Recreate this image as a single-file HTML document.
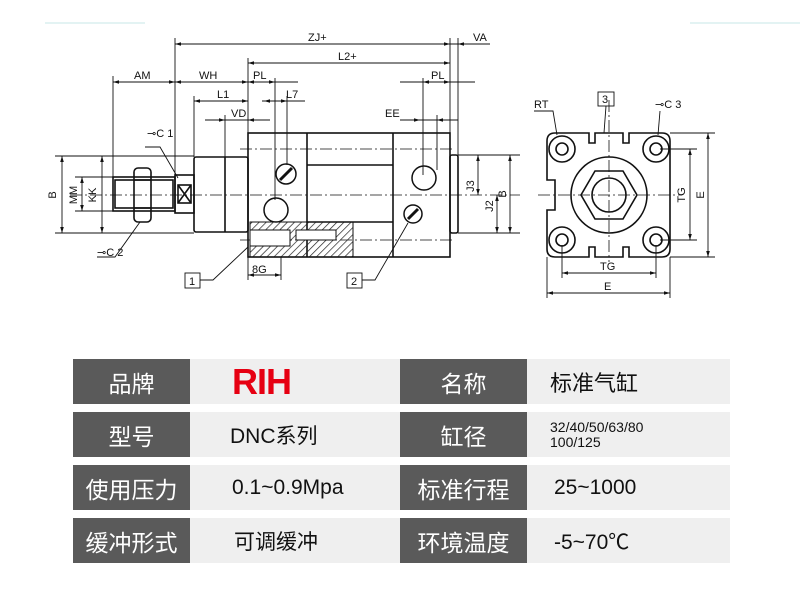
<!DOCTYPE html>
<html><head><meta charset="utf-8"><style>
body{margin:0;background:#fff;width:800px;height:614px;overflow:hidden;position:relative;font-family:"Liberation Sans","Noto Sans CJK SC",sans-serif}
svg{position:absolute;left:0;top:0}
.c{position:absolute;display:flex;align-items:center;justify-content:center;font-size:22px}
.d{background:#5a5a5a;color:#fff;font-size:23px}
.l{background:#efefef;color:#111}
</style></head><body>
<svg width="800" height="340" viewBox="0 0 800 340" font-family="Liberation Sans, sans-serif" font-size="11" fill="none" stroke="#111" stroke-width="1">
<defs><marker id="a" viewBox="0 0 10 6" refX="10" refY="3" markerWidth="7" markerHeight="4" orient="auto-start-reverse"><path d="M0,0L10,3L0,6z" fill="#111" stroke="none"/></marker>
<pattern id="h" width="5" height="5" patternUnits="userSpaceOnUse" patternTransform="rotate(45)"><line x1="0" y1="0" x2="0" y2="5" stroke="#222" stroke-width="1.4"/></pattern></defs>
<line x1="45" y1="23" x2="145" y2="23" stroke="#e3f3f3" stroke-width="2"/>
<line x1="690" y1="23" x2="800" y2="23" stroke="#e3f3f3" stroke-width="2"/>
<g stroke-width="0.9">
<line x1="175" y1="38" x2="175" y2="175"/><line x1="450" y1="38" x2="450" y2="133"/><line x1="458" y1="38" x2="458" y2="155"/>
<line x1="248" y1="58" x2="248" y2="133"/><line x1="113" y1="76" x2="113" y2="177"/><line x1="194" y1="96" x2="194" y2="157"/>
<line x1="225" y1="115" x2="225" y2="157"/><line x1="275" y1="78" x2="275" y2="200"/><line x1="287" y1="96" x2="287" y2="165"/>
<line x1="423" y1="78" x2="423" y2="175"/><line x1="437" y1="115" x2="437" y2="170"/>
<line x1="175" y1="44" x2="450" y2="44" marker-start="url(#a)" marker-end="url(#a)"/>
<line x1="450" y1="44" x2="490" y2="44"/><line x1="470" y1="44" x2="458" y2="44" marker-end="url(#a)"/>
<line x1="248" y1="63" x2="450" y2="63" marker-start="url(#a)" marker-end="url(#a)"/>
<line x1="113" y1="82" x2="175" y2="82" marker-start="url(#a)" marker-end="url(#a)"/>
<line x1="175" y1="82" x2="248" y2="82" marker-start="url(#a)" marker-end="url(#a)"/>
<line x1="248" y1="82" x2="298" y2="82"/><line x1="248" y1="82" x2="275" y2="82" marker-start="url(#a)" marker-end="url(#a)"/>
<line x1="400" y1="82" x2="475" y2="82"/><line x1="423" y1="82" x2="450" y2="82" marker-start="url(#a)" marker-end="url(#a)"/>
<line x1="194" y1="101" x2="248" y2="101" marker-start="url(#a)" marker-end="url(#a)"/>
<line x1="262" y1="101" x2="305" y2="101"/><line x1="264" y1="101" x2="287" y2="101" marker-start="url(#a)" marker-end="url(#a)"/>
<line x1="205" y1="120" x2="270" y2="120"/><line x1="210" y1="120" x2="225" y2="120" marker-end="url(#a)"/><line x1="265" y1="120" x2="248" y2="120" marker-end="url(#a)"/>
<line x1="400" y1="120" x2="458" y2="120"/><line x1="405" y1="120" x2="420" y2="120" marker-end="url(#a)"/><line x1="458" y1="120" x2="437" y2="120" marker-end="url(#a)"/>
<line x1="55" y1="156" x2="194" y2="156"/><line x1="55" y1="233" x2="194" y2="233"/>
<line x1="75" y1="177" x2="115" y2="177"/><line x1="75" y1="211" x2="115" y2="211"/>
<line x1="62" y1="156" x2="62" y2="233" marker-start="url(#a)" marker-end="url(#a)"/>
<line x1="102" y1="156" x2="102" y2="233" marker-start="url(#a)" marker-end="url(#a)"/>
<line x1="82" y1="177" x2="82" y2="211" marker-start="url(#a)" marker-end="url(#a)"/>
<line x1="458" y1="155" x2="520" y2="155"/><line x1="458" y1="233" x2="520" y2="233"/>
<line x1="478" y1="155" x2="478" y2="195" marker-start="url(#a)" marker-end="url(#a)"/>
<line x1="497" y1="195" x2="497" y2="233" marker-start="url(#a)" marker-end="url(#a)"/>
<line x1="510" y1="155" x2="510" y2="233" marker-start="url(#a)" marker-end="url(#a)"/>
<line x1="248" y1="257" x2="248" y2="280"/><line x1="281" y1="257" x2="281" y2="280"/>
<line x1="248" y1="275" x2="281" y2="275" marker-start="url(#a)" marker-end="url(#a)"/>
</g>
<g stroke-dasharray="12,3,2,3" stroke-width="0.8">
<line x1="70" y1="195" x2="520" y2="195"/><line x1="240" y1="149" x2="455" y2="149"/><line x1="240" y1="240" x2="455" y2="240"/>
<line x1="538" y1="195" x2="682" y2="195"/><line x1="609" y1="100" x2="609" y2="262"/>
</g>
<g stroke-width="1.6">
<rect x="248" y="133" width="202" height="124"/>
<line x1="307" y1="133" x2="307" y2="257"/><line x1="393" y1="133" x2="393" y2="257"/>
<line x1="307" y1="165" x2="393" y2="165"/><line x1="307" y1="222" x2="393" y2="222"/>
<rect x="450" y="155" width="8" height="78" rx="2"/>
<rect x="194" y="157" width="54" height="75" rx="2"/><line x1="225" y1="157" x2="225" y2="232"/>
<rect x="175" y="175" width="19" height="38"/><rect x="178" y="185" width="13" height="18"/>
<line x1="178" y1="185" x2="191" y2="203"/><line x1="191" y1="185" x2="178" y2="203"/>
<rect x="113" y="177" width="62" height="34"/><rect x="115" y="180" width="58" height="28"/>
<rect x="134" y="168" width="17" height="54" rx="4"/><line x1="134" y1="180" x2="151" y2="180"/><line x1="134" y1="208" x2="151" y2="208"/>
</g>
<rect x="250" y="222" width="103" height="35" fill="url(#h)" stroke="#111"/>
<rect x="250" y="230" width="40" height="16" fill="#fff" stroke="#111"/><rect x="296" y="230" width="40" height="10" fill="#fff" stroke="#111"/>
<g stroke-width="1.5">
<circle cx="286" cy="174" r="10"/><line x1="280" y1="180" x2="292" y2="168" stroke-width="3"/>
<circle cx="276" cy="210" r="12"/>
<circle cx="424" cy="178" r="12"/>
<circle cx="413" cy="214" r="9"/><line x1="408" y1="219" x2="418" y2="209" stroke-width="3"/>
</g>
<rect x="185" y="273" width="15" height="15" stroke-width="0.9"/><rect x="347" y="273" width="15" height="15" stroke-width="0.9"/>
<path d="M200,280 L213,280 L248,247" stroke-width="0.9"/><path d="M362,280 L375,280 L408,223" stroke-width="0.9"/>
<path d="M97,257 L115,257 L140,222" stroke-width="0.9"/><path d="M145,147 L160,147 L178,178" stroke-width="0.9"/>
<g stroke-width="1.6">
<path d="M555,133 H589 V143 H595 V133 H623 V143 H629 V133 H662 Q670,133 670,141 V249 Q670,257 662,257 H629 V247 H623 V257 H595 V247 H589 V257 H555 Q547,257 547,249 V210 H555 V180 H547 V141 Q547,133 555,133Z"/>
<circle cx="609" cy="195" r="38"/>
<polygon points="637,195 623,219 595,219 581,195 595,171 623,171"/>
<circle cx="609" cy="195" r="17"/>
<circle cx="562" cy="149" r="13"/><circle cx="562" cy="149" r="6"/>
<circle cx="656" cy="149" r="13"/><circle cx="656" cy="149" r="6"/>
<circle cx="562" cy="240" r="13"/><circle cx="562" cy="240" r="6"/>
<circle cx="656" cy="240" r="13"/><circle cx="656" cy="240" r="6"/>
</g>
<g stroke-width="0.9">
<line x1="670" y1="133" x2="715" y2="133"/><line x1="670" y1="257" x2="715" y2="257"/>
<line x1="660" y1="149" x2="697" y2="149"/><line x1="660" y1="240" x2="697" y2="240"/>
<line x1="708" y1="133" x2="708" y2="257" marker-start="url(#a)" marker-end="url(#a)"/>
<line x1="690" y1="149" x2="690" y2="240" marker-start="url(#a)" marker-end="url(#a)"/>
<line x1="562" y1="245" x2="562" y2="278"/><line x1="656" y1="245" x2="656" y2="278"/>
<line x1="547" y1="257" x2="547" y2="298"/><line x1="670" y1="257" x2="670" y2="298"/>
<line x1="562" y1="273" x2="656" y2="273" marker-start="url(#a)" marker-end="url(#a)"/>
<line x1="547" y1="293" x2="670" y2="293" marker-start="url(#a)" marker-end="url(#a)"/>
<rect x="598" y="92" width="16" height="14"/>
<path d="M606,106 L604,133"/><path d="M534,111 L553,111 L557,135"/><path d="M660,111 L658,135"/>
</g>
<g fill="#111" stroke="none">
<text x="308" y="41">ZJ+</text><text x="473" y="41">VA</text><text x="338" y="60">L2+</text>
<text x="134" y="79">AM</text><text x="199" y="79">WH</text><text x="253" y="79">PL</text><text x="431" y="79">PL</text>
<text x="217" y="98">L1</text><text x="286" y="98">L7</text><text x="231" y="117">VD</text><text x="385" y="117">EE</text>
<text x="252" y="273">8G</text><text x="189" y="285">1</text><text x="351" y="285">2</text>
<text x="147" y="137">⊸C 1</text><text x="97" y="256">⊸C 2</text>
<text transform="translate(56,195) rotate(-90)" text-anchor="middle">B</text>
<text transform="translate(77,195) rotate(-90)" text-anchor="middle">MM</text>
<text transform="translate(96,195) rotate(-90)" text-anchor="middle">KK</text>
<text transform="translate(474,186) rotate(-90)" text-anchor="middle">J3</text>
<text transform="translate(493,206) rotate(-90)" text-anchor="middle">J2</text>
<text transform="translate(506,194) rotate(-90)" text-anchor="middle">B</text>
<text transform="translate(685,195) rotate(-90)" text-anchor="middle">TG</text>
<text transform="translate(704,195) rotate(-90)" text-anchor="middle">E</text>
<text x="600" y="270">TG</text><text x="604" y="290">E</text>
<text x="534" y="108">RT</text><text x="602" y="103">3</text><text x="655" y="108">⊸C 3</text>
</g>
</svg>
<div class="c d" style="left:73px;top:359px;width:117px;height:45px">品牌</div>
<div class="c l" style="left:190px;top:359px;width:210px;height:45px;justify-content:flex-start"><span style="margin-left:42px;color:#e60012;font-weight:bold;font-size:36px;font-family:'Liberation Sans Narrow','Liberation Sans',sans-serif;letter-spacing:-1px">RIH</span></div>
<div class="c d" style="left:400px;top:359px;width:127px;height:45px">名称</div>
<div class="c l" style="left:527px;top:359px;width:203px;height:45px;justify-content:flex-start"><span style="margin-left:23px">标准气缸</span></div>

<div class="c d" style="left:73px;top:412px;width:117px;height:45px">型号</div>
<div class="c l" style="left:190px;top:412px;width:210px;height:45px;justify-content:flex-start"><span style="margin-left:40px;font-size:21px">DNC系列</span></div>
<div class="c d" style="left:400px;top:412px;width:127px;height:45px">缸径</div>
<div class="c l" style="left:527px;top:412px;width:203px;height:45px;justify-content:flex-start"><span style="margin-left:23px;font-size:14px;line-height:15px">32/40/50/63/80<br>100/125</span></div>

<div class="c d" style="left:73px;top:465px;width:117px;height:45px">使用压力</div>
<div class="c l" style="left:190px;top:465px;width:210px;height:45px;justify-content:flex-start"><span style="margin-left:42px;font-size:21px">0.1~0.9Mpa</span></div>
<div class="c d" style="left:400px;top:465px;width:127px;height:45px">标准行程</div>
<div class="c l" style="left:527px;top:465px;width:203px;height:45px;justify-content:flex-start"><span style="margin-left:27px;font-size:21px">25~1000</span></div>

<div class="c d" style="left:73px;top:518px;width:117px;height:45px">缓冲形式</div>
<div class="c l" style="left:190px;top:518px;width:210px;height:45px;justify-content:flex-start"><span style="margin-left:44px;font-size:21px">可调缓冲</span></div>
<div class="c d" style="left:400px;top:518px;width:127px;height:45px">环境温度</div>
<div class="c l" style="left:527px;top:518px;width:203px;height:45px;justify-content:flex-start"><span style="margin-left:27px;font-size:21px">-5~70℃</span></div>
</body></html>
